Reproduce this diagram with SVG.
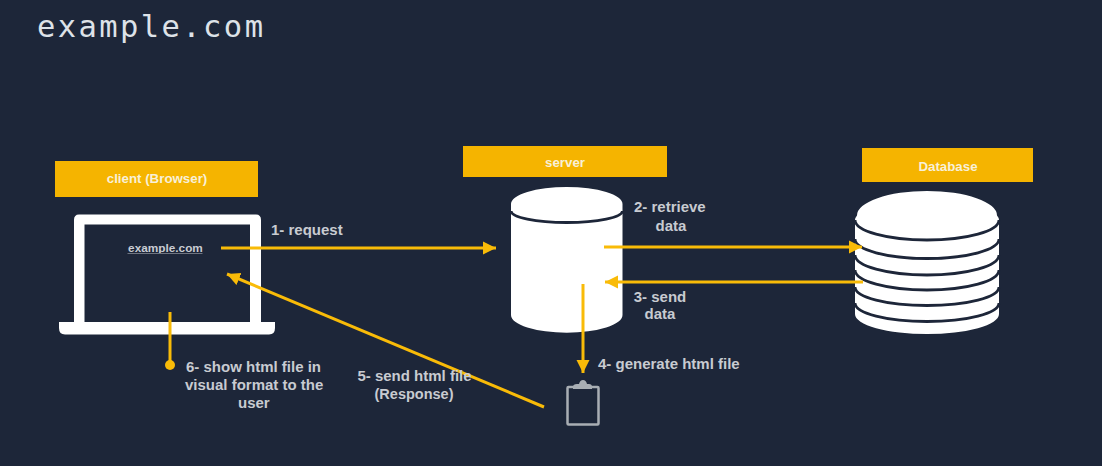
<svg xmlns="http://www.w3.org/2000/svg" width="1102" height="466" viewBox="0 0 1102 466">
<style>
text{font-family:"Liberation Sans",Arial,sans-serif;font-weight:700;font-size:15px;fill:#c8cbd1}
.tag{fill:#f5b400}
.tl{fill:#f8f0d8;font-size:13.300px;text-anchor:middle}
.mid{text-anchor:middle}
.w{fill:#fff}
.c{stroke:#f9bb08;stroke-width:3;fill:none}
.sep{fill:none;stroke:#1d2639;stroke-width:2.800}
</style>
<defs>
<marker id="a" markerUnits="userSpaceOnUse" markerWidth="14" markerHeight="14" refX="13" refY="7" orient="auto"><path d="M0 0.500L13 7L0 13.500z" fill="#f9bb08"/></marker>
</defs>
<rect width="1102" height="466" fill="#1d2639"/>
<text id="title" x="37" y="37" style="font-family:'DejaVu Sans Mono',monospace;font-weight:400;font-size:30.500px;fill:#dde2e8;letter-spacing:2.400px">example.com</text>
<g id="client">
<rect class="tag" x="55" y="161" width="203" height="36"/>
<text class="tl" x="157" y="183">client (Browser)</text>
<path class="w" fill-rule="evenodd" d="M79 214.500H256Q261 214.500 261 220V322H275V328Q275 334.500 269 334.500H65Q59 334.500 59 328V322H74V220Q74 214.500 79 214.500ZM84.500 224.500V322H250V224.500Z"/>
<text x="165.500" y="252" style="font-size:11.800px;fill:#c9ccd3;text-anchor:middle">example.com</text>
<rect x="127.500" y="253" width="75" height="1" fill="#6f7480"/>
</g>
<g id="server">
<rect class="tag" x="463" y="146" width="204" height="31"/>
<text class="tl" x="565" y="167">server</text>
<path class="w" d="M511 204A55.750 17 0 0 1 622.500 204V315A55.750 17.700 0 0 1 511 315Z"/>
<path class="sep" d="M511 211A55.750 11.500 0 0 0 622.500 211"/>
</g>
<g id="database">
<rect class="tag" x="862" y="148" width="171" height="34"/>
<text class="tl" x="948" y="171">Database</text>
<path class="w" d="M855 220A72 20 0 0 1 857 215.500A70 24.500 0 0 1 997 215.500A72 20 0 0 1 999 220V314A72 20 0 0 1 855 314Z"/>
<path class="sep" d="M855 220A72 20 0 0 0 999 220"/>
<path class="sep" d="M855 239A72 19.500 0 0 0 999 239"/>
<path class="sep" d="M855 255A72 20 0 0 0 999 255"/>
<path class="sep" d="M855 270A72 20 0 0 0 999 270"/>
<path class="sep" d="M855 287A72 18.500 0 0 0 999 287"/>
<path class="sep" d="M855 303A72 18.500 0 0 0 999 303"/>
</g>
<g id="document">
<rect x="567.500" y="387" width="31" height="37.500" rx="1" fill="none" stroke="#a9aeb4" stroke-width="2.500"/>
<path d="M573 387Q573 384 577 384H579Q580 380 583 380Q586 380 587 384H589Q592 384 592 387V389H573Z" fill="#a9aeb4"/>
</g>
<g id="connectors">
<path class="c" d="M221 248H496" marker-end="url(#a)"/>
<path class="c" d="M604 247H862" marker-end="url(#a)"/>
<path class="c" d="M863 282H605" marker-end="url(#a)"/>
<path class="c" d="M583 284V373" marker-end="url(#a)"/>
<path class="c" d="M544 407L227 274" marker-end="url(#a)"/>
<path class="c" d="M170 312V365"/>
<circle cx="170" cy="365" r="5" fill="#f9bb08"/>
</g>
<g id="labels">
<text x="271" y="235">1- request</text>
<text x="634" y="212">2- retrieve</text>
<text class="mid" x="671" y="231">data</text>
<text class="mid" x="660" y="302">3- send</text>
<text class="mid" x="660" y="319">data</text>
<text x="598" y="369">4- generate html file</text>
<text class="mid" x="414.500" y="381">5- send html file</text>
<text class="mid" x="414" y="399" style="font-size:14.500px">(Response)</text>
<text x="186" y="372">6- show html file in</text>
<text x="185" y="390">visual format to the</text>
<text x="238" y="408">user</text>
</g>
</svg>
